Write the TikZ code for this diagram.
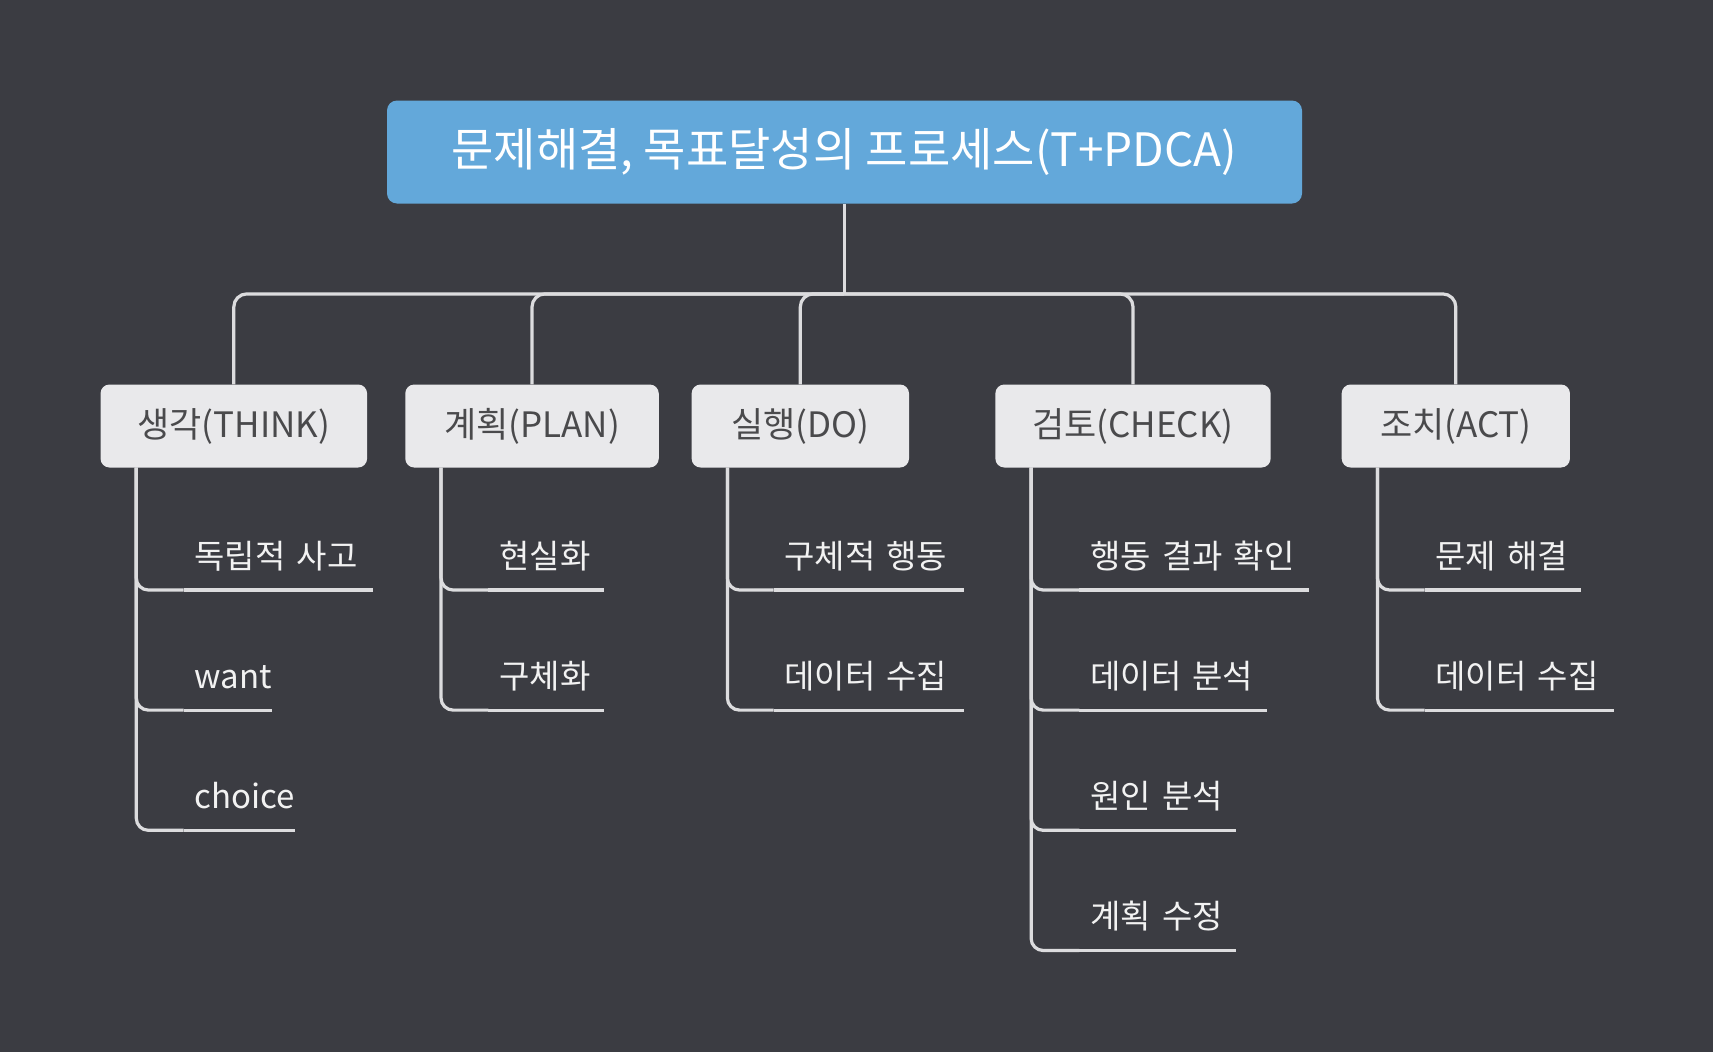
\documentclass[tikz,border=0pt]{standalone}
\usepackage{fontspec}
\setmainfont{Noto Sans CJK KR}
\definecolor{bg}{HTML}{3B3C42}
\definecolor{linecol}{HTML}{DCDCDE}
\definecolor{rootfill}{HTML}{63A8DA}
\definecolor{boxfill}{HTML}{E9E9EB}
\definecolor{boxtext}{HTML}{4A4A4C}
\definecolor{leaftext}{HTML}{F2F2F2}
\tikzset{
  conn/.style={draw=linecol, line width=3.2pt, rounded corners=13pt},
  rootbox/.style={fill=rootfill, rounded corners=10pt, minimum width=915pt, minimum height=103pt,
    inner sep=0pt, text=white, font=\fontsize{46}{52}\selectfont},
  topicbox/.style={fill=boxfill, rounded corners=9pt, minimum height=83pt, inner sep=0pt,
    text=boxtext, font=\fontsize{35}{40}\selectfont},
  leaf/.style={text=leaftext, font=\fontsize{33}{38}\selectfont, inner xsep=11pt, inner ysep=14pt,
    text height=25pt, text depth=8pt, align=left, anchor=south west, outer sep=0pt},
}
\begin{document}
\begin{tikzpicture}[x=1pt,y=-1pt]
\fill[bg] (0,0) rectangle (1713,1052);
\useasboundingbox (0,0) rectangle (1713,1052);

\node[rootbox] (root) at (844.5,152) {문제해결, 목표달성의 프로세스(T+PDCA)};

\node[topicbox, minimum width=266.6pt] (think) at (233.8,426) {생각(THINK)};
\node[topicbox, minimum width=253.5pt] (plan) at (532,426) {계획(PLAN)};
\node[topicbox, minimum width=217.4pt] (do) at (800.3,426) {실행(DO)};
\node[topicbox, minimum width=275.3pt] (check) at (1133,426) {검토(CHECK)};
\node[topicbox, minimum width=228.3pt] (act) at (1455.8,426) {조치(ACT)};

\coordinate (bus) at (844.5,293.9);
\draw[conn] (root.south) -- (bus);
\foreach \n in {think,plan,do,check,act}
  \draw[conn] (bus) -| (\n.north);

% vertical stems
\coordinate (tv) at ([xshift=36pt]think.south west);
\coordinate (pv) at ([xshift=36pt]plan.south west);
\coordinate (dv) at ([xshift=36pt]do.south west);
\coordinate (cv) at ([xshift=36pt]check.south west);
\coordinate (av) at ([xshift=36pt]act.south west);

% THINK leaves
\node[leaf, text width=167pt] (t1) at (183.6,590) {독립적 사고};
\node[leaf, text width=66.4pt] (t2) at (183.6,710.1) {want};
\node[leaf, text width=89.4pt] (t3) at (183.6,830.3) {choice};
% PLAN leaves
\node[leaf, text width=93.8pt] (p1) at (488.4,590) {현실화};
\node[leaf, text width=93.8pt] (p2) at (488.4,710.1) {구체화};
% DO leaves
\node[leaf, text width=168pt] (d1) at (773.5,590) {구체적 행동};
\node[leaf, text width=168pt] (d2) at (773.5,710.1) {데이터 수집};
% CHECK leaves
\node[leaf, text width=207.4pt] (c1) at (1079.4,590) {행동 결과 확인};
\node[leaf, text width=165.9pt] (c2) at (1079.4,710.1) {데이터 분석};
\node[leaf, text width=134.2pt] (c3) at (1079.4,830.3) {원인 분석};
\node[leaf, text width=134.2pt] (c4) at (1079.4,950.5) {계획 수정};
% ACT leaves
\node[leaf, text width=134.2pt] (a1) at (1424.6,590) {문제 해결};
\node[leaf, text width=167pt] (a2) at (1424.6,710.1) {데이터 수집};

\foreach \v/\n in {tv/t1,tv/t2,tv/t3,pv/p1,pv/p2,dv/d1,dv/d2,cv/c1,cv/c2,cv/c3,cv/c4,av/a1,av/a2}
  \draw[conn, rounded corners=12pt] (\v) |- (\n.south west);
\foreach \n in {t1,t2,t3,p1,p2,d1,d2,c1,c2,c3,c4,a1,a2}
  \draw[conn, rounded corners=0pt] (\n.south west) -- (\n.south east);
\end{tikzpicture}
\end{document}
